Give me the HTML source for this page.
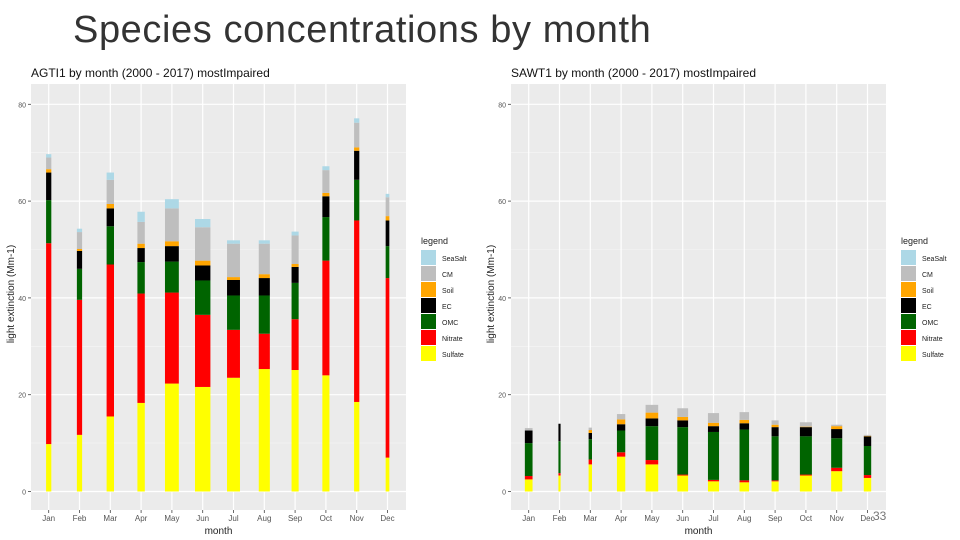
<!DOCTYPE html>
<html><head><meta charset="utf-8"><style>
body{margin:0;background:#fff;width:960px;height:540px;overflow:hidden;font-family:"Liberation Sans",sans-serif}
#title{position:absolute;left:73px;top:9px;font-size:38px;letter-spacing:0.6px;color:#333;font-weight:300}
svg{position:absolute;left:0;top:0}
</style></head><body>
<div id="title">Species concentrations by month</div>
<svg id="svg" width="960" height="540"></svg>
<script>
const months=["Jan","Feb","Mar","Apr","May","Jun","Jul","Aug","Sep","Oct","Nov","Dec"];
const species=["Sulfate","Nitrate","OMC","EC","Soil","CM","SeaSalt"];
const colors=["#ffff00","#ff0000","#006400","#000000","#ffa500","#bebebe","#add8e6"];
const yTicks=[0,20,40,60,80];
// AGTI1 component values per month
const aSulfate=[9.8,11.7,15.5,18.3,22.3,21.6,23.5,25.3,25.1,24.0,18.5,7.0];
const aNitrate=[41.5,27.9,31.4,22.6,18.8,14.9,9.9,7.3,10.5,23.7,37.5,37.1];
const aOMC=[8.9,6.4,7.9,6.5,6.4,7.1,7.1,7.9,7.5,9.0,8.4,6.6];
const aEC=[5.7,3.7,3.7,2.9,3.2,3.1,3.2,3.6,3.3,4.3,6.0,5.3];
const aSoil=[0.7,0.4,0.9,0.9,1.0,1.0,0.6,0.8,0.6,0.7,0.7,0.9];
const aCM=[2.4,3.5,5.0,4.5,6.8,6.9,6.9,6.3,5.9,4.7,5.1,3.9];
const aSeaSalt=[0.7,0.7,1.5,2.1,1.9,1.7,0.7,0.7,0.8,0.8,0.9,0.7];
const aWidth=[0.17,0.17,0.24,0.24,0.45,0.5,0.42,0.36,0.23,0.23,0.17,0.12];
// SAWT1 component values per month
const sSulfate=[2.5,3.3,5.6,7.2,5.6,3.3,2.1,1.9,2.1,3.3,4.2,2.8];
const sNitrate=[0.7,0.5,1.0,0.9,0.9,0.2,0.3,0.4,0.2,0.2,0.7,0.6];
const sOMC=[6.8,6.6,4.2,4.5,7.0,9.8,9.9,10.5,9.1,7.9,6.1,6.0];
const sEC=[2.6,3.6,1.3,1.3,1.6,1.4,1.2,1.3,1.9,1.9,1.9,2.0];
const sSoil=[0,0,0.6,1.0,1.2,0.7,0.7,0.7,0.5,0.1,0.6,0.1];
const sCM=[0.5,0,0.5,1.1,1.6,1.8,2.0,1.6,0.9,0.9,0.3,0.2];
const sSeaSalt=[0,0,0,0,0,0,0,0,0,0,0,0];
const sWidth=[0.25,0.07,0.11,0.27,0.41,0.35,0.36,0.31,0.23,0.39,0.36,0.24];

const NS="http://www.w3.org/2000/svg";
const svg=document.getElementById('svg');
function mk(tag,attrs,parent,text){const e=document.createElementNS(NS,tag);for(const k in attrs)e.setAttribute(k,attrs[k]);if(text!==undefined)e.textContent=text;(parent||svg).appendChild(e);return e;}

function chart(ox,title,series,widths,prefix){
  const g=mk('g',{});
  
  
  const L=ox+31,R=ox+406,T=84,B=510;
  const y=v=>491.5-v*4.84;
  const step=30.8, x=i=>ox+48.7+i*step;
  const t=mk('text',{x:ox+31,y:77,'font-size':12,fill:'#111'},g,title);
  
  const p=mk('rect',{x:L,y:T,width:R-L,height:B-T,fill:'#ebebeb'},g);
  
  for(let v=10;v<=70;v+=20)mk('line',{x1:L,x2:R,y1:y(v),y2:y(v),stroke:'#f5f5f5','stroke-width':0.6},g);
  yTicks.forEach(v=>{
    mk('line',{x1:L,x2:R,y1:y(v),y2:y(v),stroke:'#fff','stroke-width':1.2},g);
    mk('line',{x1:L-3,x2:L,y1:y(v),y2:y(v),stroke:'#444','stroke-width':0.8},g);
    const tl=mk('text',{x:L-5,y:y(v)+3,'font-size':7,fill:'#555','text-anchor':'end'},g,String(v));
    
  });
  months.forEach((m,i)=>{
    mk('line',{x1:x(i),x2:x(i),y1:T,y2:B,stroke:'#fff','stroke-width':1.2},g);
    mk('line',{x1:x(i),x2:x(i),y1:B,y2:B+3,stroke:'#444','stroke-width':0.8},g);
    const tl=mk('text',{x:x(i),y:521,'font-size':8,fill:'#555','text-anchor':'middle'},g,m);
    
    let acc=0;const w=widths[i]*step;
    series.forEach((s,k)=>{
      const v=s[i];if(v<=0){return;}
      const r=mk('rect',{x:x(i)-w/2,y:y(acc+v),width:w,height:y(acc)-y(acc+v),fill:colors[k]},g);
      
      
      acc+=v;
    });
  });
  const xt=mk('text',{x:(L+R)/2,y:534,'font-size':10,fill:'#222','text-anchor':'middle'},g,'month');
  
  const yt=mk('text',{x:0,y:0,'font-size':10,fill:'#222','text-anchor':'middle',transform:`translate(${ox+14},${(T+B)/2-3}) rotate(-90)`},g,'light extinction (Mm-1)');
  
  const lg=mk('g',{},g);
  
  mk('text',{x:ox+421,y:244,'font-size':9,fill:'#222'},lg,'legend');
  for(let k=6;k>=0;k--){
    const idx=6-k, ky=250+idx*16;
    const r=mk('rect',{x:ox+421,y:ky,width:15,height:15,fill:colors[k]},lg);
    
    const lt=mk('text',{x:ox+442,y:ky+11,'font-size':7,fill:'#222'},lg,species[k]);
    
  }
}
chart(0,'AGTI1 by month (2000 - 2017) mostImpaired',[aSulfate,aNitrate,aOMC,aEC,aSoil,aCM,aSeaSalt],aWidth,'agti1');
chart(480,'SAWT1 by month (2000 - 2017) mostImpaired',[sSulfate,sNitrate,sOMC,sEC,sSoil,sCM,sSeaSalt],sWidth,'sawt1');
const pn=mk('text',{x:873,y:520,'font-size':12,fill:'#777'},svg,'33');

</script>
</body></html>
